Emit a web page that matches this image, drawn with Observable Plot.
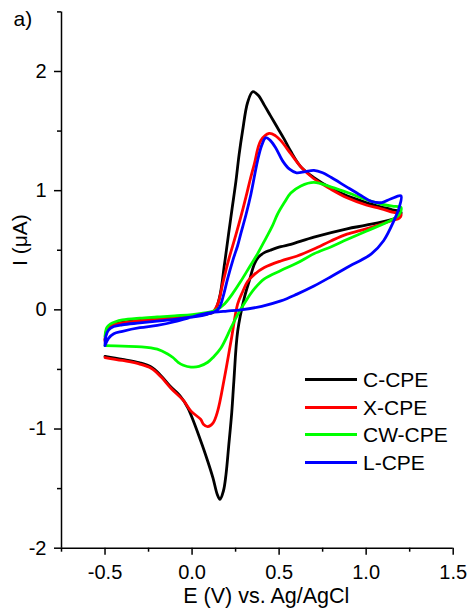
<!DOCTYPE html>
<html><head><meta charset="utf-8">
<script src="https://cdn.jsdelivr.net/npm/d3@7"></script>
<script src="https://cdn.jsdelivr.net/npm/@observablehq/plot@0.6"></script>
<style>
body{margin:0;background:#fff;}
#wrap{position:relative;width:470px;height:614px;font-family:"Liberation Sans",Arial,sans-serif;color:#000;}
#legend{position:absolute;left:305px;top:366px;}
.row{display:flex;align-items:center;height:27.5px;}
.sw{width:52px;height:3px;margin-right:6px;}
.lt{font-size:21px;line-height:21px;}
</style></head><body><div id="wrap"></div>
<script>
const series = ["C-CPE", "X-CPE", "CW-CPE", "L-CPE"];
const colors = ["#000000", "#ff0000", "#00ff00", "#0000ff"];
const xDomain = [-0.75, 1.5];
const yDomain = [-2, 2.5];
const xMajor = [-0.5, 0, 0.5, 1, 1.5];
const xMinor = [-0.75, -0.25, 0.25, 0.75, 1.25];
const yMajor = [-2, -1, 0, 1, 2];
const yMinor = [-1.5, -0.5, 0.5, 1.5, 2.5];
const xTitle = "E (V) vs. Ag/AgCl";
const yTitle = "I (\u03bcA)";
const panel = "a)";

// C-CPE (black): forward scan then reverse scan
const cE = [-0.5,-0.49,-0.47,-0.44,-0.4,-0.3,-0.2,-0.1,0,0.08,0.127,0.157,0.186,0.21,0.23,0.252,0.27,0.29,0.319,0.348,0.38,0.414,0.45,0.49,0.53,0.567,0.625,0.7,0.8,0.89,1.0,1.083,1.15,1.2,
  1.19,1.14,1.0,0.89,0.7,0.567,0.51,0.45,0.415,0.38,0.357,0.33,0.30,0.262,0.24,0.228,0.21,0.195,0.18,0.16,0.145,0.12,0.09,0.05,-0.025,-0.07,-0.12,-0.18,-0.235,-0.3,-0.4,-0.5];
const cI = [-0.25,-0.17,-0.14,-0.12,-0.105,-0.09,-0.075,-0.065,-0.05,-0.035,-0.015,0.10,0.38,0.64,0.85,1.08,1.3,1.5,1.74,1.83,1.8,1.72,1.63,1.53,1.43,1.33,1.2,1.11,1.02,0.956,0.9,0.865,0.84,0.82,
  0.785,0.755,0.71,0.68,0.61,0.55,0.53,0.5,0.48,0.44,0.38,0.25,0.10,-0.18,-0.6,-0.86,-1.15,-1.38,-1.52,-1.59,-1.55,-1.41,-1.27,-1.10,-0.82,-0.72,-0.65,-0.55,-0.48,-0.445,-0.415,-0.39];

// X-CPE (red)
const xE = [-0.5,-0.49,-0.47,-0.44,-0.4,-0.3,-0.2,-0.1,0,0.08,0.118,0.15,0.176,0.21,0.25,0.28,0.31,0.335,0.357,0.395,0.443,0.48,0.51,0.567,0.625,0.7,0.8,0.89,1.0,1.083,1.15,1.2,
  1.19,1.15,1.0,0.89,0.8,0.7,0.6,0.51,0.415,0.36,0.32,0.29,0.262,0.224,0.186,0.147,0.12,0.09,0.065,0.05,-0.006,-0.05,-0.12,-0.18,-0.235,-0.3,-0.4,-0.5];
const xI = [-0.26,-0.18,-0.14,-0.12,-0.11,-0.09,-0.08,-0.07,-0.055,-0.035,-0.02,0.06,0.22,0.42,0.62,0.78,0.95,1.1,1.22,1.42,1.48,1.46,1.42,1.31,1.2,1.1,1.01,0.94,0.88,0.85,0.82,0.8,
  0.77,0.75,0.68,0.635,0.58,0.51,0.45,0.41,0.355,0.3,0.24,0.15,0.05,-0.26,-0.57,-0.85,-0.95,-0.98,-0.96,-0.92,-0.85,-0.76,-0.66,-0.56,-0.49,-0.455,-0.425,-0.40];

// CW-CPE (green)
const wE = [-0.5,-0.49,-0.47,-0.44,-0.4,-0.3,-0.2,-0.1,0,0.1,0.14,0.186,0.23,0.28,0.33,0.376,0.424,0.46,0.49,0.53,0.567,0.625,0.7,0.8,0.9,0.99,1.08,1.15,1.2,
  1.19,1.14,1.0,0.89,0.8,0.7,0.6,0.51,0.415,0.36,0.32,0.262,0.224,0.166,0.12,0.09,0.04,-0.006,-0.05,-0.08,-0.11,-0.14,-0.2,-0.29,-0.4,-0.5];
const wI = [-0.22,-0.15,-0.12,-0.1,-0.085,-0.07,-0.06,-0.05,-0.04,-0.02,0.0,0.05,0.13,0.24,0.36,0.47,0.6,0.7,0.8,0.9,0.98,1.04,1.07,1.03,0.98,0.93,0.89,0.87,0.86,
  0.8,0.75,0.66,0.59,0.53,0.47,0.39,0.33,0.26,0.18,0.10,-0.04,-0.15,-0.32,-0.4,-0.44,-0.475,-0.48,-0.465,-0.44,-0.4,-0.37,-0.33,-0.31,-0.305,-0.30];

// L-CPE (blue)
const lE = [-0.5,-0.495,-0.48,-0.45,-0.4,-0.3,-0.2,-0.1,0,0.08,0.13,0.157,0.18,0.204,0.235,0.262,0.28,0.31,0.338,0.376,0.4,0.424,0.45,0.48,0.52,0.56,0.6,0.65,0.7,0.75,0.8,0.89,0.97,1.03,1.09,1.14,1.2,
  1.19,1.16,1.10,1.03,0.89,0.8,0.7,0.6,0.51,0.4,0.28,0.2,0.128,0.05,0,-0.1,-0.2,-0.3,-0.4,-0.45,-0.48,-0.5];
const lI = [-0.30,-0.22,-0.17,-0.14,-0.125,-0.11,-0.095,-0.08,-0.06,-0.04,-0.015,0.02,0.12,0.26,0.42,0.54,0.64,0.8,0.97,1.25,1.38,1.445,1.42,1.36,1.25,1.18,1.15,1.16,1.17,1.15,1.11,1.03,0.96,0.91,0.90,0.93,0.956,
  0.86,0.75,0.58,0.47,0.355,0.28,0.20,0.13,0.075,0.03,0.0,-0.01,-0.02,-0.04,-0.06,-0.1,-0.13,-0.15,-0.18,-0.2,-0.24,-0.30];

const sets = [[cE, cI], [xE, xI], [wE, wI], [lE, lI]];
const rows = [];
sets.forEach(([E, I], k) => E.forEach((e, i) => rows.push({s: series[k], E: e, I: I[i]})));

const chart = Plot.plot({
  width: 470,
  height: 614,
  marginLeft: 61,
  marginRight: 17.3,
  marginTop: 11.4,
  marginBottom: 66.3,
  style: {fontFamily: "'Liberation Sans', Arial, sans-serif", fontSize: "20px", color: "#000", background: "#fff"},
  x: {domain: xDomain},
  y: {domain: yDomain},
  color: {domain: series, range: colors},
  marks: [
    Plot.line(rows, {x: "E", y: "I", z: "s", stroke: "s", strokeWidth: 2.8, curve: "catmull-rom"}),
    Plot.ruleX([xDomain[0]], {strokeWidth: 1.5}),
    Plot.ruleY([yDomain[0]], {strokeWidth: 1.5}),
    Plot.axisX({ticks: xMajor, tickSize: 7, tickPadding: 10, tickFormat: d => d.toFixed(1), label: null, strokeWidth: 1.5, fontSize: 20}),
    Plot.axisX({ticks: xMinor, tickSize: 4, text: null, label: null, strokeWidth: 1.5}),
    Plot.axisY({ticks: yMajor, tickSize: 7, tickPadding: 8, tickFormat: d => String(d), label: null, strokeWidth: 1.5, fontSize: 20}),
    Plot.axisY({ticks: yMinor, tickSize: 4, text: null, label: null, strokeWidth: 1.5}),
    Plot.text([xTitle], {frameAnchor: "bottom", textAnchor: "middle", dy: 55, dx: 9, fontSize: 21.5}),
    Plot.text([yTitle], {frameAnchor: "left", textAnchor: "middle", rotate: -90, dx: -41, dy: -40, fontSize: 21}),
    Plot.text([panel], {frameAnchor: "top-left", textAnchor: "start", dx: -48, dy: -1, fontSize: 21})
  ]
});

const wrap = document.getElementById("wrap");
wrap.appendChild(chart);
const leg = document.createElement("div");
leg.id = "legend";
series.forEach((s, i) => {
  const r = document.createElement("div");
  r.className = "row";
  const sw = document.createElement("div");
  sw.className = "sw";
  sw.style.background = colors[i];
  const t = document.createElement("span");
  t.className = "lt";
  t.textContent = s;
  r.appendChild(sw); r.appendChild(t);
  leg.appendChild(r);
});
wrap.appendChild(leg);
</script></body></html>
